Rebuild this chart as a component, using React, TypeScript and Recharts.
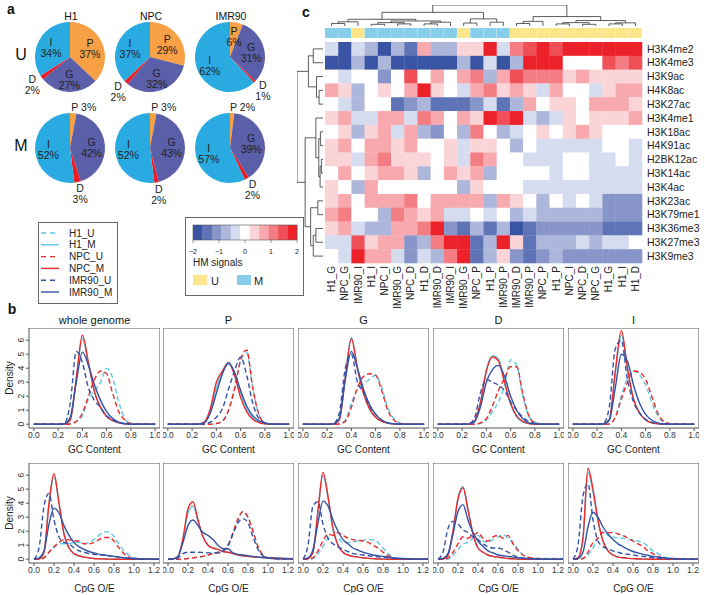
import React from 'react';
import { PieChart, Pie, Cell, LineChart, Line, XAxis, YAxis, ScatterChart, Scatter, BarChart, Bar, ReferenceArea, Label } from 'recharts';

const FONT = '"Liberation Sans", Arial, Helvetica, sans-serif';

// ---------------- panel a: pies ----------------
const PIE_CELLS = ['H1', 'NPC', 'IMR90'];
const PIE_ROWS = ['U', 'M'];
const REGIONS = ['P', 'G', 'D', 'I'];
const PIE_H1_U = [37, 27, 2, 34];
const PIE_NPC_U = [29, 32, 2, 37];
const PIE_IMR90_U = [6, 31, 1, 62];
const PIE_H1_M = [3, 42, 3, 52];
const PIE_NPC_M = [3, 43, 2, 52];
const PIE_IMR90_M = [2, 39, 2, 57];
const REGION_COLORS = ['#f7a046', '#5b5ea8', '#ec1c24', '#29abe2'];

// ---------------- panel b: density curves ----------------
const GC_X = [0, 0.2, 0.25, 0.3, 0.35, 0.4, 0.45, 0.5, 0.55, 0.6, 0.65, 0.7, 0.75, 0.8, 0.85, 1.0];
const GC_TICKS = [0, 0.2, 0.4, 0.6, 0.8, 1.0];
const CPG_X = [0, 0.05, 0.1, 0.15, 0.2, 0.25, 0.3, 0.35, 0.4, 0.45, 0.5, 0.55, 0.6, 0.65, 0.7, 0.75, 0.8, 0.85, 0.9, 0.95, 1.0, 1.1, 1.25];
const CPG_TICKS = [0, 0.2, 0.4, 0.6, 0.8, 1.0, 1.2];
const DENSITY_TICKS = [0, 1, 2, 3, 4, 5, 6];
const PANEL_TITLES = ['whole genome', 'P', 'G', 'D', 'I'];

const GC_WHOLE = {
  H1_U: [0, 0, 0, 0.05, 0.2, 0.6, 1.8, 2.4, 3.0, 4.0, 3.3, 1.6, 0.4, 0.05, 0, 0],
  H1_M: [0, 0, 0.02, 0.4, 3.2, 6.1, 4.3, 2.3, 1.2, 0.55, 0.25, 0.1, 0.03, 0, 0, 0],
  NPC_U: [0, 0, 0, 0.02, 0.2, 0.8, 2.0, 3.2, 3.8, 3.6, 2.2, 0.9, 0.3, 0.05, 0, 0],
  NPC_M: [0, 0, 0.02, 0.3, 3.3, 6.35, 4.4, 2.3, 1.2, 0.55, 0.25, 0.1, 0.03, 0, 0, 0],
  IMR90_U: [0, 0, 0.05, 1.5, 5.2, 4.4, 2.6, 1.7, 1.2, 0.6, 0.3, 0.1, 0.03, 0, 0, 0],
  IMR90_M: [0, 0, 0.02, 0.5, 3.0, 5.15, 4.2, 2.8, 1.7, 0.9, 0.4, 0.15, 0.05, 0, 0, 0],
};
const GC_P = {
  H1_U: [0, 0, 0, 0, 0, 0.05, 0.25, 1.0, 2.6, 4.5, 5.1, 2.6, 0.7, 0.1, 0, 0],
  H1_M: [0, 0, 0.01, 0.1, 0.9, 2.6, 3.7, 4.3, 3.6, 2.2, 1.1, 0.45, 0.15, 0.05, 0, 0],
  NPC_U: [0, 0, 0, 0, 0, 0.05, 0.2, 1.0, 2.5, 4.6, 5.3, 2.6, 0.7, 0.1, 0, 0],
  NPC_M: [0, 0, 0.01, 0.15, 1.1, 3.0, 3.8, 4.4, 3.5, 1.9, 0.9, 0.35, 0.12, 0.03, 0, 0],
  IMR90_U: [0, 0, 0, 0.02, 0.15, 0.5, 1.1, 2.5, 3.8, 4.8, 3.5, 1.5, 0.4, 0.1, 0.02, 0],
  IMR90_M: [0, 0, 0.01, 0.1, 0.8, 2.2, 3.6, 4.4, 3.7, 2.4, 1.3, 0.6, 0.25, 0.1, 0.02, 0],
};
const GC_G = {
  H1_U: [0, 0, 0, 0.02, 0.3, 1.5, 2.5, 2.9, 3.2, 3.5, 2.6, 1.2, 0.4, 0.1, 0.02, 0],
  H1_M: [0, 0, 0.02, 0.35, 3.4, 6.2, 4.0, 2.2, 1.1, 0.5, 0.2, 0.08, 0.02, 0, 0, 0],
  NPC_U: [0, 0, 0, 0.02, 0.2, 1.2, 2.6, 3.4, 3.6, 3.5, 2.4, 1.0, 0.3, 0.05, 0, 0],
  NPC_M: [0, 0, 0.02, 0.3, 3.3, 6.1, 4.0, 2.2, 1.1, 0.5, 0.2, 0.08, 0.02, 0, 0, 0],
  IMR90_U: [0, 0, 0.02, 0.8, 4.0, 5.0, 3.0, 2.3, 1.3, 0.7, 0.3, 0.1, 0.03, 0, 0, 0],
  IMR90_M: [0, 0, 0.02, 0.4, 3.2, 5.2, 4.0, 2.5, 1.4, 0.7, 0.3, 0.1, 0.03, 0, 0, 0],
};
const GC_D = {
  H1_U: [0, 0, 0, 0, 0.05, 0.3, 0.9, 1.6, 2.8, 4.6, 4.2, 2.0, 0.6, 0.15, 0.05, 0],
  H1_M: [0, 0, 0.01, 0.2, 1.5, 3.9, 4.9, 4.7, 3.0, 1.4, 0.5, 0.15, 0.05, 0, 0, 0],
  NPC_U: [0, 0, 0, 0, 0.1, 0.4, 1.3, 2.4, 3.3, 4.1, 4.1, 2.2, 0.6, 0.1, 0, 0],
  NPC_M: [0, 0, 0.01, 0.2, 1.5, 3.8, 4.8, 4.5, 3.0, 1.5, 0.6, 0.2, 0.05, 0, 0, 0],
  IMR90_U: [0, 0, 0.02, 0.4, 2.2, 3.2, 3.0, 2.8, 2.4, 1.6, 1.0, 0.5, 0.2, 0.05, 0, 0],
  IMR90_M: [0, 0, 0.01, 0.15, 1.2, 3.0, 3.9, 4.2, 3.4, 2.0, 1.0, 0.4, 0.1, 0.03, 0, 0],
};
const GC_I = {
  H1_U: [0, 0, 0, 0.02, 0.5, 2.0, 3.3, 3.8, 3.5, 2.8, 1.6, 0.6, 0.15, 0.03, 0, 0],
  H1_M: [0, 0, 0.02, 0.3, 3.6, 6.4, 4.0, 1.8, 0.8, 0.3, 0.1, 0.03, 0, 0, 0, 0],
  NPC_U: [0, 0, 0, 0.02, 0.5, 1.8, 3.0, 3.8, 3.7, 3.2, 2.0, 0.8, 0.2, 0.03, 0, 0],
  NPC_M: [0, 0, 0.02, 0.3, 3.8, 6.7, 4.0, 1.8, 0.8, 0.3, 0.1, 0.03, 0, 0, 0, 0],
  IMR90_U: [0, 0, 0.05, 1.2, 5.4, 6.0, 3.2, 1.6, 0.8, 0.35, 0.15, 0.05, 0, 0, 0, 0],
  IMR90_M: [0, 0, 0.02, 0.3, 2.6, 5.0, 4.5, 2.8, 1.5, 0.7, 0.3, 0.1, 0.03, 0, 0, 0],
};

const CPG_WHOLE = {
  H1_U: [0, 0, 0.1, 0.5, 0.8, 1.1, 1.1, 1.1, 1.2, 1.2, 1.1, 1.2, 1.4, 1.7, 1.95, 1.95, 1.6, 1.1, 0.6, 0.3, 0.1, 0.02, 0],
  H1_M: [0, 0.02, 0.5, 3.9, 5.9, 4.0, 1.8, 0.8, 0.4, 0.25, 0.15, 0.1, 0.05, 0.03, 0.02, 0.01, 0, 0, 0, 0, 0, 0, 0],
  NPC_U: [0, 0, 0.1, 0.5, 0.9, 1.2, 1.4, 1.4, 1.3, 1.3, 1.1, 1.1, 1.2, 1.4, 1.55, 1.55, 1.3, 0.8, 0.4, 0.15, 0.05, 0, 0],
  NPC_M: [0, 0.02, 0.5, 4.0, 6.1, 4.0, 1.8, 0.8, 0.4, 0.25, 0.15, 0.1, 0.05, 0.03, 0.02, 0.01, 0, 0, 0, 0, 0, 0, 0],
  IMR90_U: [0, 0.8, 3.8, 4.7, 2.8, 1.6, 1.2, 1.1, 0.8, 0.6, 0.5, 0.4, 0.35, 0.3, 0.3, 0.25, 0.2, 0.15, 0.1, 0.05, 0.03, 0, 0],
  IMR90_M: [0, 0.1, 0.6, 2.5, 3.65, 3.3, 2.4, 1.7, 1.2, 0.9, 0.7, 0.55, 0.45, 0.35, 0.3, 0.25, 0.2, 0.15, 0.1, 0.07, 0.05, 0.02, 0],
};
const CPG_P = {
  H1_U: [0, 0, 0, 0.02, 0.05, 0.1, 0.15, 0.2, 0.3, 0.4, 0.45, 0.55, 0.9, 1.8, 2.8, 3.4, 3.0, 2.0, 0.9, 0.3, 0.1, 0.02, 0],
  H1_M: [0, 0.02, 0.2, 1.4, 3.3, 3.8, 2.7, 1.6, 1.0, 0.8, 0.7, 0.55, 0.5, 0.4, 0.3, 0.25, 0.2, 0.17, 0.15, 0.12, 0.1, 0.07, 0.04],
  NPC_U: [0, 0, 0, 0.02, 0.05, 0.1, 0.15, 0.2, 0.3, 0.4, 0.45, 0.6, 1.0, 1.9, 2.9, 3.4, 3.0, 2.0, 0.9, 0.3, 0.1, 0.02, 0],
  NPC_M: [0, 0.02, 0.2, 1.5, 3.6, 4.1, 2.8, 1.6, 1.0, 0.8, 0.7, 0.55, 0.5, 0.4, 0.3, 0.25, 0.2, 0.17, 0.15, 0.12, 0.1, 0.07, 0.04],
  IMR90_U: [0, 0, 0.1, 0.4, 0.5, 0.5, 0.5, 0.48, 0.45, 0.45, 0.5, 0.6, 1.0, 1.8, 2.6, 2.9, 2.6, 1.6, 0.7, 0.25, 0.1, 0.02, 0],
  IMR90_M: [0, 0.02, 0.2, 1.2, 2.4, 2.8, 2.4, 1.9, 1.7, 1.4, 1.0, 0.75, 0.75, 0.45, 0.35, 0.3, 0.25, 0.2, 0.15, 0.12, 0.1, 0.06, 0.03],
};
const CPG_G = {
  H1_U: [0, 0, 0.05, 0.4, 0.9, 1.5, 1.7, 1.5, 1.2, 1.2, 1.25, 1.3, 1.35, 1.4, 1.4, 1.2, 0.8, 0.4, 0.15, 0.05, 0.02, 0, 0],
  H1_M: [0, 0.05, 0.5, 3.4, 6.0, 4.4, 2.1, 1.0, 0.5, 0.3, 0.2, 0.15, 0.1, 0.06, 0.04, 0.02, 0.01, 0, 0, 0, 0, 0, 0],
  NPC_U: [0, 0, 0.1, 0.6, 1.3, 1.8, 1.7, 1.9, 1.7, 1.5, 1.4, 1.35, 1.3, 1.2, 1.0, 0.8, 0.5, 0.25, 0.1, 0.04, 0.02, 0, 0],
  NPC_M: [0, 0.05, 0.5, 3.5, 6.2, 4.5, 2.2, 1.0, 0.5, 0.3, 0.2, 0.15, 0.1, 0.06, 0.04, 0.02, 0.01, 0, 0, 0, 0, 0, 0],
  IMR90_U: [0, 1.0, 3.8, 4.1, 2.5, 1.5, 1.1, 0.9, 0.7, 0.55, 0.4, 0.35, 0.3, 0.25, 0.2, 0.17, 0.15, 0.1, 0.06, 0.03, 0.02, 0, 0],
  IMR90_M: [0, 0.1, 0.7, 2.6, 4.15, 3.8, 2.8, 2.0, 1.4, 1.1, 0.8, 0.65, 0.5, 0.4, 0.3, 0.25, 0.2, 0.15, 0.1, 0.07, 0.05, 0.02, 0],
};
const CPG_D = {
  H1_U: [0, 0, 0, 0.3, 0.7, 1.1, 1.2, 1.5, 1.7, 1.3, 1.2, 1.4, 1.6, 1.75, 1.5, 1.2, 0.7, 0.3, 0.15, 0.08, 0.05, 0.05, 0.05],
  H1_M: [0, 0.02, 0.3, 2.0, 4.4, 5.2, 3.6, 1.8, 0.8, 0.5, 0.3, 0.2, 0.15, 0.1, 0.05, 0.03, 0.01, 0, 0, 0, 0, 0, 0],
  NPC_U: [0, 0, 0.1, 0.5, 1.1, 1.6, 1.5, 1.7, 1.9, 1.5, 1.3, 1.6, 1.7, 1.5, 1.7, 1.1, 0.6, 0.3, 0.15, 0.08, 0.05, 0, 0],
  NPC_M: [0, 0.02, 0.3, 2.0, 4.3, 5.1, 3.5, 1.8, 0.8, 0.5, 0.3, 0.2, 0.15, 0.1, 0.05, 0.03, 0.01, 0, 0, 0, 0, 0, 0],
  IMR90_U: [0, 0.5, 2.2, 2.7, 2.5, 2.1, 1.9, 1.6, 1.4, 1.1, 0.9, 0.8, 0.8, 0.7, 0.5, 0.3, 0.15, 0.08, 0.05, 0.02, 0, 0, 0],
  IMR90_M: [0, 0.05, 0.4, 1.8, 3.4, 3.9, 2.8, 1.9, 1.3, 0.9, 0.6, 0.45, 0.3, 0.25, 0.2, 0.15, 0.1, 0.07, 0.05, 0.03, 0.02, 0, 0],
};
const CPG_I = {
  H1_U: [0, 0, 0.05, 0.3, 0.8, 1.5, 2.0, 1.7, 1.6, 1.5, 1.5, 1.4, 1.4, 1.3, 1.2, 0.9, 0.6, 0.4, 0.2, 0.05, 0.02, 0, 0],
  H1_M: [0, 0.1, 1.5, 6.2, 4.8, 2.7, 1.3, 0.6, 0.3, 0.15, 0.1, 0.06, 0.04, 0.02, 0.01, 0, 0, 0, 0, 0, 0, 0, 0],
  NPC_U: [0, 0, 0.05, 0.5, 1.2, 1.5, 1.9, 1.9, 1.9, 1.8, 1.7, 1.5, 1.3, 1.1, 0.9, 0.6, 0.4, 0.2, 0.1, 0.04, 0.02, 0, 0],
  NPC_M: [0, 0.1, 1.5, 6.5, 5.0, 2.8, 1.3, 0.6, 0.3, 0.15, 0.1, 0.06, 0.04, 0.02, 0.01, 0, 0, 0, 0, 0, 0, 0, 0],
  IMR90_U: [0, 1.0, 4.5, 5.4, 2.8, 1.3, 0.9, 0.75, 0.6, 0.5, 0.4, 0.35, 0.3, 0.25, 0.2, 0.15, 0.1, 0.06, 0.03, 0.02, 0, 0, 0],
  IMR90_M: [0, 0.05, 0.5, 2.3, 3.35, 3.0, 2.3, 1.8, 1.4, 1.1, 0.9, 0.7, 0.55, 0.45, 0.35, 0.28, 0.2, 0.15, 0.1, 0.07, 0.05, 0.02, 0],
};

const GC_PANELS = [GC_WHOLE, GC_P, GC_G, GC_D, GC_I];
const CPG_PANELS = [CPG_WHOLE, CPG_P, CPG_G, CPG_D, CPG_I];

const CYAN = '#5cc8e6';
const RED = '#ee2a2a';
const BLUE = '#3452a6';
const SERIES = [
  { key: 'H1_U', color: CYAN, dash: true },
  { key: 'H1_M', color: CYAN, dash: false },
  { key: 'NPC_U', color: RED, dash: true },
  { key: 'NPC_M', color: RED, dash: false },
  { key: 'IMR90_U', color: BLUE, dash: true },
  { key: 'IMR90_M', color: BLUE, dash: false },
];

// ---------------- panel c: heatmap ----------------
const HM_COLS = ['H1_G', 'NPC_G', 'IMR90_I', 'H1_I', 'NPC_I', 'IMR90_G', 'NPC_D', 'H1_D', 'IMR90_D', 'IMR90_I', 'IMR90_G', 'NPC_P', 'H1_P', 'IMR90_P', 'IMR90_D', 'IMR90_P', 'NPC_P', 'H1_P', 'NPC_I', 'NPC_D', 'NPC_G', 'H1_G', 'H1_I', 'H1_D'];
const HM_COL_GROUP = ['M', 'M', 'U', 'M', 'M', 'M', 'M', 'M', 'M', 'M', 'U', 'M', 'M', 'M', 'U', 'U', 'U', 'U', 'U', 'U', 'U', 'U', 'U', 'U'];
const HM_ROWS = ['H3K4me2', 'H3K4me3', 'H3K9ac', 'H4K8ac', 'H3K27ac', 'H3K4me1', 'H3K18ac', 'H4K91ac', 'H2BK12ac', 'H3K14ac', 'H3K4ac', 'H3K23ac', 'H3K79me1', 'H3K36me3', 'H3K27me3', 'H3K9me3'];
// binned signal levels, -5 (=-2) .. 5 (=+2)
const HM_VALUES = [
  [-1, -5, -1, -2, -5, -2, -4, 2, -2, -2, 1, 1, 5, -1, 3, 4, 5, 4, 5, 5, 5, 5, 5, 5],
  [-5, -5, -2, -5, -2, -5, -5, -5, -5, -5, -2, -5, -1, -5, -2, 5, 5, 5, 0, 0, 0, 4, 3, 4],
  [0, -1, 0, 0, -3, 0, 4, 0, 2, 0, 2, 3, -2, 2, 4, 3, 3, 3, 1, 2, 1, 1, 1, 1],
  [2, 1, -2, 0, 1, 0, 2, 5, 1, 0, -1, 2, 3, 1, 2, 1, -1, 2, 0, 0, -1, 1, 2, 2],
  [0, -1, -2, 0, 0, -4, -3, -2, -4, -4, -4, -3, -1, -4, -2, 2, 0, 1, 1, 0, 2, 2, 2, 1],
  [1, 2, -1, -1, 2, 2, -1, 3, 2, 0, 2, 1, 5, 4, 5, -1, -2, -1, 1, 0, 1, 1, 1, 2],
  [0, 1, -2, 1, 2, -1, 2, -2, -3, 0, -2, 3, 0, -2, -1, 0, 1, 0, 1, 2, 1, 0, 0, 0],
  [1, 2, 0, 2, 2, 1, 2, 0, 0, 1, -1, 1, 1, 0, -2, 0, -1, -1, -1, -1, -1, 0, 0, -1],
  [1, 1, -1, 2, 3, 1, 1, 1, 0, 1, -1, 3, 2, 0, 0, -1, -1, -1, 0, 0, -1, -1, 0, -1],
  [0, 2, 0, 1, 2, 2, 1, -2, 0, 2, 1, 2, -2, 0, 0, 0, 0, -1, 0, 0, -1, -1, -1, -1],
  [1, 0, -2, 2, 0, 0, 0, 0, 0, 0, -2, 1, 0, 0, 0, -1, -1, -1, -1, -1, -1, -1, -1, -1],
  [1, 2, 0, 2, 2, 2, 3, 0, 2, 2, 2, 2, -2, 2, 1, 0, -2, 0, -1, 0, -1, -3, -3, -3],
  [2, 3, 0, 0, -2, 3, 2, 1, 2, -1, -1, 0, -1, 0, -2, -1, -2, -2, -2, -2, -2, -3, -3, -3],
  [1, 2, -1, -2, -2, 2, 2, 3, 5, -3, -4, -2, -4, -2, -5, -4, -3, -3, -3, -3, -3, -4, -4, -4],
  [-1, -1, 4, 1, 2, 2, -3, -2, 3, 5, 5, -4, -2, 5, 1, -4, -2, -2, -2, -1, -2, -1, -1, 0],
  [0, -1, 5, 2, 2, -1, -3, -1, -2, 3, 5, -4, -2, 1, -3, -4, -3, -2, -3, -3, -3, -3, -3, -3],
];
const HM_PALETTE = ['#3a54a4', '#5f73b7', '#8795c9', '#adb7dc', '#d6dcef', '#ffffff', '#fbd4d7', '#f8a9ae', '#f47c83', '#f04f57', '#ec2129'];
const KEY_TICKS = ['\u22122', '\u22121', '0', '1', '2'];
const GROUP_COLORS: Record<string, string> = { U: '#fde68a', M: '#87ceeb' };

// dendrograms: [childA, childB, height]; ids >= n refer to earlier merges
const COL_MERGES = [
  [0, 1, 1.2], [24, 2, 2.0], [3, 4, 0.8], [5, 6, 1.0], [26, 27, 1.6], [7, 8, 1.0], [29, 9, 1.8],
  [28, 30, 2.4], [25, 31, 3.2], [10, 11, 1.4], [12, 13, 1.8], [33, 34, 3.4], [32, 35, 6.5],
  [14, 15, 1.2], [37, 16, 2.2], [17, 18, 1.0], [19, 20, 0.8], [39, 40, 1.6], [21, 22, 1.0],
  [42, 23, 1.5], [41, 43, 2.6], [38, 44, 4.5], [36, 45, 10],
];
const ROW_MERGES = [
  [0, 1, 3.0], [3, 4, 1.2], [2, 17, 2.0], [16, 18, 4.5], [6, 7, 0.8], [8, 9, 0.5], [21, 10, 0.9],
  [20, 22, 1.3], [5, 23, 2.2], [11, 12, 1.6], [13, 14, 2.2], [26, 15, 3.0], [25, 27, 3.8],
  [24, 28, 5.5], [19, 29, 8],
];

// ---------------- layout ----------------
const FRAME_X = [29, 163, 298, 433, 568];
const FRAME_W = 131;
const FRAME_H = 100;
const TOP_Y = 328;
const BOT_Y = 463;
const Y_DOMAIN: [number, number] = [-0.27, 6.87];
const HM_LEFT = 325;
const HM_TOP = 42;
const HM_W = 317;
const HM_H = 221;
const CELL_W = HM_W / HM_COLS.length;
const CELL_H = HM_H / HM_ROWS.length;
const PIE_CX = [70, 150, 230];
const PIE_CY = [57, 148];

const RAD = Math.PI / 180;

function Txt({ x, y, size = 10, bold = false, children }: any) {
  return (
    <div style={{ position: 'absolute', left: x, top: y, transform: 'translate(-50%,-50%)', fontSize: size, fontWeight: bold ? 'bold' : 'normal', lineHeight: 1, whiteSpace: 'nowrap', color: '#111', fontFamily: FONT }}>
      {children}
    </div>
  );
}

function pieLabel(p: any) {
  const { cx, cy, midAngle, outerRadius, value, name } = p;
  const base = { fontSize: 10.5, fill: '#222', fontFamily: FONT, textAnchor: 'middle' as const };
  const at = (r: number) => [cx + r * Math.cos(-midAngle * RAD), cy + r * Math.sin(-midAngle * RAD)];
  if (value >= 5) {
    const [x, y] = at(outerRadius * 0.62);
    return (
      <text {...base}>
        <tspan x={x} y={y - 1}>{name}</tspan>
        <tspan x={x} y={y + 10}>{value}%</tspan>
      </text>
    );
  }
  if (name === 'P') {
    const [x, y] = at(outerRadius * 1.16);
    return <text {...base} x={x + 10} y={y + 3.5}>{`P ${value}%`}</text>;
  }
  const [x, y] = at(outerRadius * 1.33);
  return (
    <text {...base}>
      <tspan x={x} y={y - 1}>{name}</tspan>
      <tspan x={x} y={y + 10}>{value}%</tspan>
    </text>
  );
}

function Pies() {
  const sets = [[PIE_H1_U, PIE_NPC_U, PIE_IMR90_U], [PIE_H1_M, PIE_NPC_M, PIE_IMR90_M]];
  return (
    <div style={{ position: 'absolute', left: 0, top: 0 }}>
      <PieChart width={300} height={205} margin={{ top: 0, right: 0, bottom: 0, left: 0 }}>
        {sets.map((row, ri) => row.map((vals, ci) => (
          <Pie key={`${ri}-${ci}`} data={REGIONS.map((n, i) => ({ name: n, value: vals[i] }))} dataKey="value" nameKey="name"
            cx={PIE_CX[ci]} cy={PIE_CY[ri]} outerRadius={35} startAngle={90} endAngle={-270} stroke="none"
            label={pieLabel} labelLine={false} isAnimationActive={false}>
            {REGIONS.map((n, i) => <Cell key={n} fill={REGION_COLORS[i]} />)}
          </Pie>
        )))}
      </PieChart>
    </div>
  );
}

function RotTick(p: any) {
  const { x, y, payload } = p;
  return (
    <text x={x} y={y} transform={`rotate(-90 ${x} ${y})`} textAnchor="middle" fontSize={8.5} fill="#333" fontFamily={FONT}>{payload.value}</text>
  );
}

function DensityLabel(p: any) {
  const vb = p.viewBox;
  const x = vb.x + 9;
  const y = vb.y + vb.height / 2;
  return <text x={x} y={y} transform={`rotate(-90 ${x} ${y})`} textAnchor="middle" dominantBaseline="central" fontSize={10} fill="#222" fontFamily={FONT}>Density</text>;
}

function DensityPanel({ idx, top, xs, series, gc }: any) {
  const showY = idx === 0;
  const axisW = showY ? 29 : 0;
  const data = xs.map((x: number, i: number) => {
    const o: any = { x };
    SERIES.forEach((s) => { o[s.key] = series[s.key][i]; });
    return o;
  });
  const xDomain: [number, number] = gc ? [-0.04, 1.04] : [-0.05, 1.26];
  return (
    <div style={{ position: 'absolute', left: FRAME_X[idx] - axisW, top }}>
      <LineChart width={FRAME_W + axisW} height={FRAME_H + 30} data={data} margin={{ top: 0, right: 0, bottom: 0, left: 0 }}>
        <XAxis dataKey="x" type="number" domain={xDomain} ticks={gc ? GC_TICKS : CPG_TICKS} interval={0}
          tickFormatter={(v: number) => v.toFixed(1)} axisLine={false} tickSize={3} tickMargin={1} height={30}
          tick={{ fontSize: 8.5, fill: '#333', fontFamily: FONT }} stroke="#555">
          <Label value={gc ? 'GC Content' : 'CpG O/E'} position="insideBottom" offset={gc ? 5 : 1} style={{ fontSize: 10, fill: '#222', fontFamily: FONT }} />
        </XAxis>
        <YAxis type="number" domain={Y_DOMAIN} ticks={DENSITY_TICKS} interval={0} hide={!showY} width={axisW}
          axisLine={false} tickSize={3} tickMargin={2} tick={<RotTick />} stroke="#555">
          {showY ? <Label content={<DensityLabel />} /> : null}
        </YAxis>
        <ReferenceArea x1={xDomain[0]} x2={xDomain[1]} y1={Y_DOMAIN[0]} y2={Y_DOMAIN[1]} fill="none" stroke="#555" strokeWidth={1} ifOverflow="visible" />
        {SERIES.map((s) => (
          <Line key={s.key} dataKey={s.key} type="monotone" stroke={s.color} strokeWidth={1.4}
            strokeDasharray={s.dash ? '5 3' : undefined} dot={false} activeDot={false} isAnimationActive={false} />
        ))}
      </LineChart>
    </div>
  );
}

function dendroLines(n: number, merges: number[][]) {
  const pos: number[] = [];
  const ht: number[] = [];
  for (let i = 0; i < n; i++) { pos.push(i); ht.push(0); }
  return merges.map(([a, b, h]) => {
    const pts = [{ p: pos[a], h: ht[a] }, { p: pos[a], h }, { p: pos[b], h }, { p: pos[b], h: ht[b] }];
    pos.push((pos[a] + pos[b]) / 2);
    ht.push(h);
    return pts;
  });
}

function ColDendro() {
  const lines = dendroLines(HM_COLS.length, COL_MERGES);
  return (
    <div style={{ position: 'absolute', left: HM_LEFT, top: 5 }}>
      <LineChart width={HM_W} height={21} margin={{ top: 0, right: 0, bottom: 0, left: 0 }}>
        <XAxis dataKey="p" type="number" domain={[-0.5, HM_COLS.length - 0.5]} hide />
        <YAxis type="number" domain={[0, 10]} hide />
        {lines.map((pts, i) => (
          <Line key={i} data={pts} dataKey="h" type="linear" stroke="#333" strokeWidth={0.8} dot={false} activeDot={false} isAnimationActive={false} />
        ))}
      </LineChart>
    </div>
  );
}

function RowDendro() {
  const lines = dendroLines(HM_ROWS.length, ROW_MERGES);
  return (
    <div style={{ position: 'absolute', left: 297, top: HM_TOP }}>
      <LineChart width={26} height={HM_H} margin={{ top: 0, right: 0, bottom: 0, left: 0 }}>
        <XAxis dataKey="h" type="number" domain={[0, 8]} reversed hide />
        <YAxis type="number" domain={[-0.5, HM_ROWS.length - 0.5]} reversed hide />
        {lines.map((pts, i) => (
          <Line key={i} data={pts} dataKey="p" type="linear" stroke="#333" strokeWidth={0.8} dot={false} activeDot={false} isAnimationActive={false} />
        ))}
      </LineChart>
    </div>
  );
}

function ColorBar() {
  const data = HM_COL_GROUP.map((g, i) => ({ i, v: 1, g }));
  return (
    <div style={{ position: 'absolute', left: HM_LEFT, top: 28 }}>
      <BarChart width={HM_W} height={10} data={data} margin={{ top: 0, right: 0, bottom: 0, left: 0 }} barCategoryGap={0}>
        <XAxis dataKey="i" hide />
        <YAxis type="number" domain={[0, 1]} hide />
        <Bar dataKey="v" isAnimationActive={false}>
          {data.map((d) => <Cell key={d.i} fill={GROUP_COLORS[d.g]} />)}
        </Bar>
      </BarChart>
    </div>
  );
}

function ColTick(p: any) {
  const { x, y, payload } = p;
  return (
    <text x={x} y={y} transform={`rotate(-90 ${x} ${y})`} textAnchor="end" dominantBaseline="central" fontSize={10} fill="#222" fontFamily={FONT}>{HM_COLS[payload.value]}</text>
  );
}

function CellShape(p: any) {
  return <rect x={p.cx - CELL_W / 2} y={p.cy - CELL_H / 2} width={CELL_W + 0.3} height={CELL_H + 0.3} fill={HM_PALETTE[p.payload.v + 5]} />;
}

function Heatmap() {
  const cells = HM_VALUES.flatMap((row, r) => row.map((v, c) => ({ c, r, v })));
  return (
    <div style={{ position: 'absolute', left: HM_LEFT, top: HM_TOP }}>
      <ScatterChart width={HM_W + 63} height={HM_H + 48} margin={{ top: 0, right: 0, bottom: 0, left: 0 }}>
        <XAxis dataKey="c" type="number" domain={[-0.5, HM_COLS.length - 0.5]} ticks={HM_COLS.map((_, i) => i)} interval={0}
          axisLine={false} tickLine={false} tickSize={0} tickMargin={3} height={48} tick={<ColTick />} />
        <YAxis dataKey="r" type="number" domain={[-0.5, HM_ROWS.length - 0.5]} reversed orientation="right" ticks={HM_ROWS.map((_, i) => i)}
          interval={0} tickFormatter={(v: number) => HM_ROWS[v]} axisLine={false} tickLine={false} tickSize={0} tickMargin={5} width={63}
          tick={{ fontSize: 10.5, fill: '#222', fontFamily: FONT }} />
        <Scatter data={cells} shape={<CellShape />} isAnimationActive={false} />
      </ScatterChart>
    </div>
  );
}

function LineLegend() {
  return (
    <svg style={{ position: 'absolute', left: 38, top: 222 }} width={81} height={83}>
      <rect x={0.5} y={0.5} width={79} height={81} fill="#fff" stroke="#666" />
      {SERIES.map((s, i) => (
        <g key={s.key}>
          <line x1={3} x2={21} y1={11 + i * 11.8} y2={11 + i * 11.8} stroke={s.color} strokeWidth={1.4} strokeDasharray={s.dash ? '5 4' : undefined} />
          <text x={31} y={11 + i * 11.8} dominantBaseline="central" fontSize={10} fill="#222" fontFamily={FONT}>{s.key}</text>
        </g>
      ))}
    </svg>
  );
}

function HmKey() {
  const segW = 104 / HM_PALETTE.length;
  return (
    <svg style={{ position: 'absolute', left: 185, top: 217 }} width={120} height={80}>
      <rect x={0.5} y={0.5} width={118} height={78} fill="#fff" stroke="#666" />
      {HM_PALETTE.map((c, i) => <rect key={i} x={8 + i * segW} y={8} width={segW + 0.3} height={15} fill={c} />)}
      <rect x={8} y={8} width={104} height={15} fill="none" stroke="#555" strokeWidth={0.6} />
      {KEY_TICKS.map((t, i) => (
        <g key={t}>
          <line x1={8 + i * 26} x2={8 + i * 26} y1={23} y2={26} stroke="#555" strokeWidth={0.6} />
          <text x={8 + i * 26} y={34} textAnchor="middle" dominantBaseline="central" fontSize={7} fill="#222" fontFamily={FONT}>{t}</text>
        </g>
      ))}
      <text x={8} y={45} dominantBaseline="central" fontSize={10} fill="#222" fontFamily={FONT}>HM signals</text>
      <rect x={8} y={58} width={14} height={10} fill={GROUP_COLORS.U} />
      <text x={26} y={63.5} dominantBaseline="central" fontSize={11} fill="#222" fontFamily={FONT}>U</text>
      <rect x={52} y={58} width={14} height={10} fill={GROUP_COLORS.M} />
      <text x={69} y={63.5} dominantBaseline="central" fontSize={11} fill="#222" fontFamily={FONT}>M</text>
    </svg>
  );
}

export default function App() {
  return (
    <div style={{ position: 'absolute', left: 0, top: 0, width: 705, height: 595, background: '#fff', fontFamily: FONT, overflow: 'hidden' }}>
      <Txt x={11} y={9} size={14} bold>a</Txt>
      <Txt x={12} y={309} size={14} bold>b</Txt>
      <Txt x={306} y={12} size={14} bold>c</Txt>
      {PIE_CELLS.map((n, i) => <Txt key={n} x={PIE_CX[i] + 1} y={16} size={10.5}>{n}</Txt>)}
      {PIE_ROWS.map((n, i) => <Txt key={n} x={21} y={PIE_CY[i] - 2} size={16}>{n}</Txt>)}
      <Pies />
      <LineLegend />
      <HmKey />
      <ColDendro />
      <ColorBar />
      <RowDendro />
      <Heatmap />
      {PANEL_TITLES.map((t, i) => <Txt key={t} x={FRAME_X[i] + FRAME_W / 2} y={320} size={11}>{t}</Txt>)}
      {GC_PANELS.map((s, i) => <DensityPanel key={`gc${i}`} idx={i} top={TOP_Y} xs={GC_X} series={s} gc />)}
      {CPG_PANELS.map((s, i) => <DensityPanel key={`cpg${i}`} idx={i} top={BOT_Y} xs={CPG_X} series={s} gc={false} />)}
    </div>
  );
}
